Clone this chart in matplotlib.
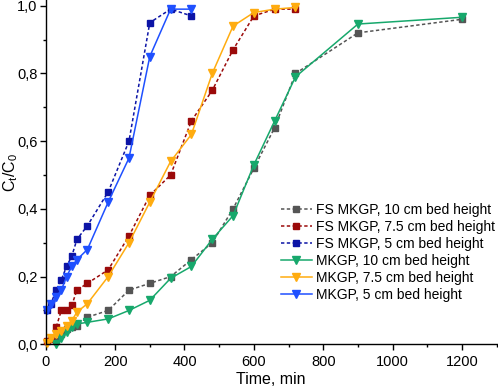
import matplotlib
matplotlib.use("Agg")
import matplotlib.pyplot as plt
from matplotlib.ticker import MultipleLocator, FuncFormatter

plt.rcParams['font.family'] = ['Liberation Sans', 'DejaVu Sans']

t_5 = [5, 15, 30, 45, 60, 75, 90, 120, 180, 240, 300, 360, 420]
fs_5 = [0.10, 0.12, 0.16, 0.19, 0.23, 0.26, 0.31, 0.35, 0.45, 0.60, 0.95, 0.99, 0.97]
mk_5 = [0.10, 0.12, 0.14, 0.16, 0.20, 0.23, 0.25, 0.28, 0.42, 0.55, 0.85, 0.99, 0.99]

t_75 = [5, 15, 30, 45, 60, 75, 90, 120, 180, 240, 300, 360, 420, 480, 540, 600, 660, 720]
fs_75 = [0.01, 0.015, 0.05, 0.10, 0.10, 0.115, 0.16, 0.18, 0.22, 0.32, 0.44, 0.50, 0.66, 0.75, 0.87, 0.97, 0.99, 0.99]
mk_75 = [0.005, 0.02, 0.03, 0.04, 0.055, 0.07, 0.095, 0.12, 0.20, 0.30, 0.42, 0.54, 0.62, 0.80, 0.94, 0.98, 0.99, 0.995]

t_10 = [30, 45, 60, 75, 90, 120, 180, 240, 300, 360, 420, 480, 540, 600, 660, 720, 900, 1200]
fs_10 = [0.01, 0.03, 0.045, 0.05, 0.055, 0.08, 0.10, 0.16, 0.18, 0.20, 0.25, 0.30, 0.40, 0.52, 0.64, 0.80, 0.92, 0.96]
mk_10 = [0.0, 0.02, 0.035, 0.05, 0.06, 0.065, 0.075, 0.10, 0.13, 0.195, 0.23, 0.31, 0.38, 0.53, 0.66, 0.79, 0.946, 0.966]

fig = plt.figure(figsize=(4.98, 3.87), dpi=100)
ax = fig.add_axes([0.0918, 0.1103, 0.9056, 0.8897])

lw = 1.1
sq = dict(marker='s', markersize=4.8, linestyle=(0, (2.2, 1.6)), linewidth=lw)
tri = dict(marker='v', markersize=6.2, linestyle='-', linewidth=lw)

ax.plot(t_10, fs_10, color='#555555', label='FS MKGP, 10 cm bed height', clip_on=False, **sq)
ax.plot(t_75, fs_75, color='#9b0a0a', label='FS MKGP, 7.5 cm bed height', clip_on=False, **sq)
ax.plot(t_5, fs_5, color='#0c14a6', label='FS MKGP, 5 cm bed height', clip_on=False, **sq)
ax.plot(t_10, mk_10, color='#17a86c', label='MKGP, 10 cm bed height', clip_on=False, **tri)
ax.plot(t_75, mk_75, color='#ffac10', label='MKGP, 7.5 cm bed height', clip_on=False, **tri)
ax.plot(t_5, mk_5, color='#1f50ff', label='MKGP, 5 cm bed height', clip_on=False, **tri)

ax.set_xlim(0, 1300)
ax.set_ylim(0, 1.017)
ax.xaxis.set_major_locator(MultipleLocator(200))
ax.xaxis.set_minor_locator(MultipleLocator(100))
ax.yaxis.set_major_locator(MultipleLocator(0.2))
ax.yaxis.set_minor_locator(MultipleLocator(0.1))
ax.yaxis.set_major_formatter(FuncFormatter(lambda v, p: f"{v:.1f}".replace('.', ',')))
ax.tick_params(which='major', direction='out', length=4, width=1, labelsize=10.5)
ax.tick_params(axis='x', which='major', pad=4)
ax.tick_params(axis='y', which='major', pad=2)
ax.tick_params(which='minor', direction='out', length=2.5, width=1)
for s in ['top', 'right']:
    ax.spines[s].set_visible(False)
for s in ['left', 'bottom']:
    ax.spines[s].set_linewidth(1)

ax.set_xlabel('Time, min', fontsize=11.5, labelpad=2)
ax.set_ylabel(r'$\mathregular{C_t/C_0}$', fontsize=11.5)
ax.yaxis.set_label_coords(-0.058, 0.5)

ax.legend(loc='upper left', bbox_to_anchor=(281 / 498, 1 - 203 / 387), bbox_transform=fig.transFigure,
          frameon=False, fontsize=10, handlelength=2.2, handletextpad=0.35, labelspacing=0.22,
          borderpad=0, borderaxespad=0)

fig.savefig('out.png', dpi=100)
